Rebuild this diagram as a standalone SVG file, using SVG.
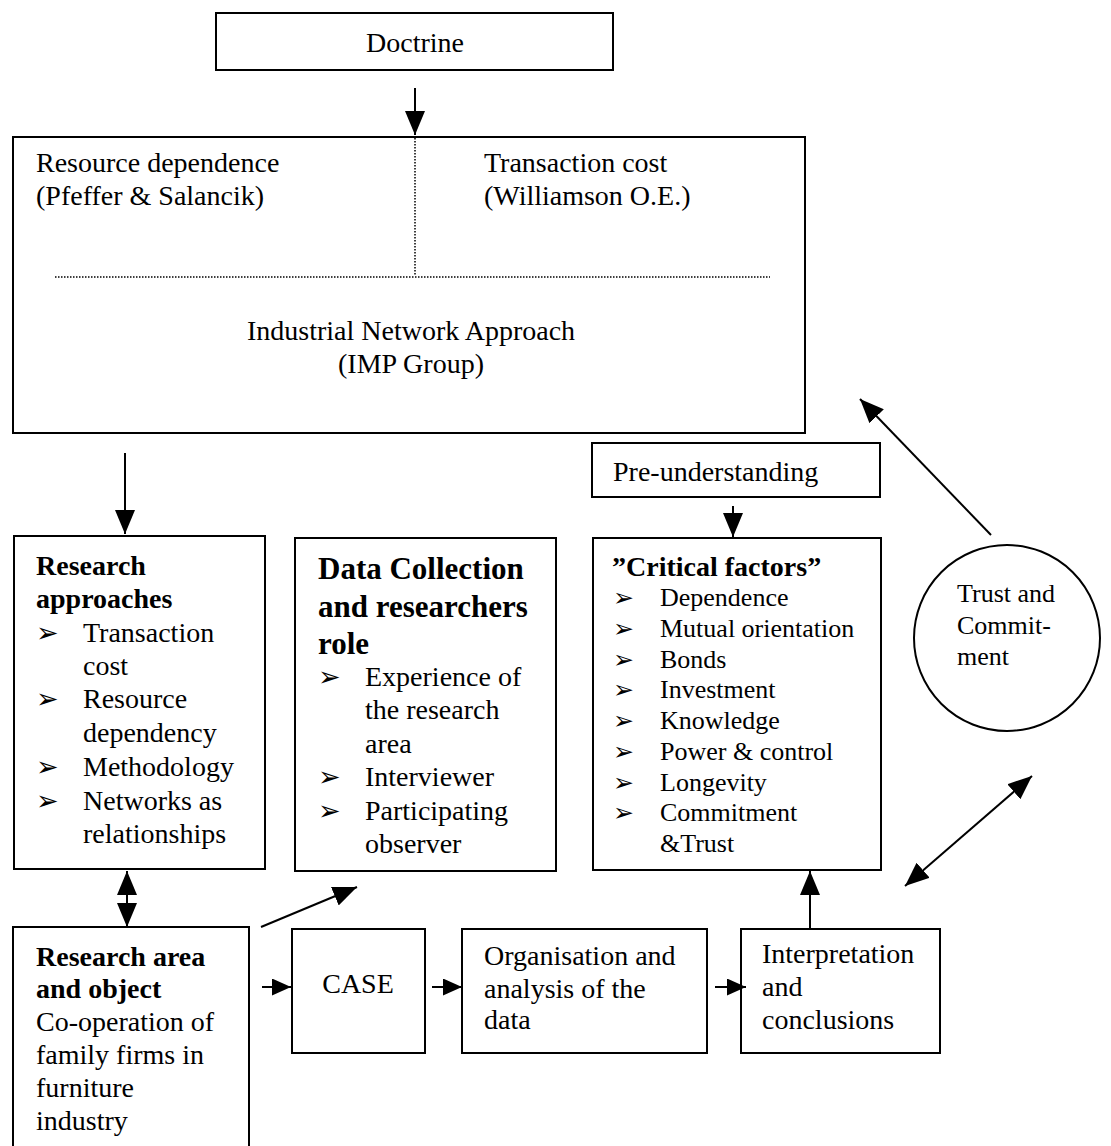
<svg xmlns="http://www.w3.org/2000/svg" width="1111" height="1146" viewBox="0 0 1111 1146">
  <style>
    .box { fill: #fff; stroke: #000; stroke-width: 2; }
    .dot { fill: none; stroke: #000; stroke-width: 1.5; stroke-dasharray: 1.5 1.5; }
    .t { font-family: "Liberation Serif", "Times New Roman", serif; font-size: 28px; fill: #000; }
    .b { font-weight: bold; }
    .s { font-size: 26px; }
    .big { font-size: 31px; }
    .bul { font-family: "DejaVu Sans", sans-serif; font-size: 27px; fill: #000; }
    .c { text-anchor: middle; }
    .ln { fill: none; stroke: #000; stroke-width: 2; }
  </style>
  <defs>
    <marker id="head" viewBox="0 0 24 20" refX="24" refY="10" markerWidth="24" markerHeight="20" markerUnits="userSpaceOnUse" orient="auto-start-reverse">
      <path d="M0,0 L24,10 L0,20 z" fill="#000"/>
    </marker>
    <marker id="headS" viewBox="0 0 19 17" refX="19" refY="8.5" markerWidth="19" markerHeight="17" markerUnits="userSpaceOnUse" orient="auto-start-reverse">
      <path d="M0,0 L19,8.5 L0,17 z" fill="#000"/>
    </marker>
    <clipPath id="interpClip">
      <rect x="742" y="930" width="197" height="99"/>
    </clipPath>
  </defs>

  <!-- Doctrine -->
  <g id="doctrine">
    <rect class="box" x="216" y="13" width="397" height="57"/>
    <text class="t c" x="415" y="52">Doctrine</text>
  </g>

  <!-- Theories box -->
  <g id="theories">
    <rect class="box" x="13" y="137" width="792" height="296"/>
    <line class="dot" x1="415" y1="138" x2="415" y2="276"/>
    <line class="dot" x1="55" y1="277" x2="770" y2="277"/>
    <text class="t" x="36" y="172">Resource dependence</text>
    <text class="t" x="36" y="205">(Pfeffer &amp; Salancik)</text>
    <text class="t" x="484" y="172">Transaction cost</text>
    <text class="t" x="484" y="205">(Williamson O.E.)</text>
    <text class="t c" x="411" y="340">Industrial Network Approach</text>
    <text class="t c" x="411" y="373">(IMP Group)</text>
  </g>

  <!-- Research approaches -->
  <g id="research-approaches">
    <rect class="box" x="14" y="536" width="251" height="333"/>
    <text class="t b" x="36" y="575">Research</text>
    <text class="t b" x="36" y="608">approaches</text>
    <text class="bul" x="36" y="642">➢</text>
    <text class="t" x="83" y="642">Transaction</text>
    <text class="t" x="83" y="675">cost</text>
    <text class="bul" x="36" y="708">➢</text>
    <text class="t" x="83" y="708">Resource</text>
    <text class="t" x="83" y="742">dependency</text>
    <text class="bul" x="36" y="776">➢</text>
    <text class="t" x="83" y="776">Methodology</text>
    <text class="bul" x="36" y="810">➢</text>
    <text class="t" x="83" y="810">Networks as</text>
    <text class="t" x="83" y="843">relationships</text>
  </g>

  <!-- Data collection -->
  <g id="data-collection">
    <rect class="box" x="295" y="538" width="261" height="333"/>
    <text class="t b big" x="318" y="579">Data Collection</text>
    <text class="t b big" x="318" y="617">and researchers</text>
    <text class="t b big" x="318" y="654">role</text>
    <text class="bul" x="318" y="686">➢</text>
    <text class="t" x="365" y="686">Experience of</text>
    <text class="t" x="365" y="719">the research</text>
    <text class="t" x="365" y="753">area</text>
    <text class="bul" x="318" y="786">➢</text>
    <text class="t" x="365" y="786">Interviewer</text>
    <text class="bul" x="318" y="820">➢</text>
    <text class="t" x="365" y="820">Participating</text>
    <text class="t" x="365" y="853">observer</text>
  </g>

  <!-- Pre-understanding -->
  <g id="pre-understanding">
    <rect class="box" x="592" y="443" width="288" height="54"/>
    <text class="t" x="613" y="481">Pre-understanding</text>
  </g>

  <!-- Critical factors -->
  <g id="critical-factors">
    <rect class="box" x="593" y="538" width="288" height="332"/>
    <text class="t b" x="612" y="576">”Critical factors”</text>
    <g class="bul" style="font-size:25px">
      <text x="613" y="606">➢</text>
      <text x="613" y="637">➢</text>
      <text x="613" y="668">➢</text>
      <text x="613" y="698">➢</text>
      <text x="613" y="729">➢</text>
      <text x="613" y="760">➢</text>
      <text x="613" y="791">➢</text>
      <text x="613" y="821">➢</text>
    </g>
    <text class="t s" x="660" y="606">Dependence</text>
    <text class="t s" x="660" y="637">Mutual orientation</text>
    <text class="t s" x="660" y="668">Bonds</text>
    <text class="t s" x="660" y="698">Investment</text>
    <text class="t s" x="660" y="729">Knowledge</text>
    <text class="t s" x="660" y="760">Power &amp; control</text>
    <text class="t s" x="660" y="791">Longevity</text>
    <text class="t s" x="660" y="821">Commitment</text>
    <text class="t s" x="660" y="852">&amp;Trust</text>
  </g>

  <!-- Trust and commitment -->
  <g id="trust-commitment">
    <circle cx="1007" cy="638" r="93" fill="#fff" stroke="#000" stroke-width="2"/>
    <text class="t s" x="957" y="602">Trust and</text>
    <text class="t s" x="957" y="634">Commit-</text>
    <text class="t s" x="957" y="665">ment</text>
  </g>

  <!-- Research area and object -->
  <g id="research-area">
    <rect class="box" x="13" y="927" width="236" height="240"/>
    <text class="t b" x="36" y="966">Research area</text>
    <text class="t b" x="36" y="998">and object</text>
    <text class="t" x="36" y="1031">Co-operation of</text>
    <text class="t" x="36" y="1064">family firms in</text>
    <text class="t" x="36" y="1097">furniture</text>
    <text class="t" x="36" y="1130">industry</text>
  </g>

  <!-- CASE -->
  <g id="case">
    <rect class="box" x="292" y="929" width="133" height="124"/>
    <text class="t c" x="358" y="993">CASE</text>
  </g>

  <!-- Organisation and analysis -->
  <g id="organisation">
    <rect class="box" x="462" y="929" width="245" height="124"/>
    <text class="t" x="484" y="965">Organisation and</text>
    <text class="t" x="484" y="998">analysis of the</text>
    <text class="t" x="484" y="1029">data</text>
  </g>

  <!-- Interpretation and conclusions -->
  <g id="interpretation">
    <rect class="box" x="741" y="929" width="199" height="124"/>
    <g clip-path="url(#interpClip)">
      <text class="t" x="762" y="963">Interpretation</text>
      <text class="t" x="762" y="996">and</text>
      <text class="t" x="762" y="1029">conclusions</text>
    </g>
  </g>

  <!-- Connectors -->
  <g id="connectors">
    <line class="ln" x1="415" y1="88" x2="415" y2="135" marker-end="url(#head)"/>
    <line class="ln" x1="125" y1="453" x2="125" y2="534" marker-end="url(#head)"/>
    <line class="ln" x1="733" y1="506" x2="733" y2="537" marker-end="url(#head)"/>
    <line class="ln" x1="127" y1="871" x2="127" y2="927" marker-start="url(#head)" marker-end="url(#head)"/>
    <line class="ln" x1="261" y1="927" x2="357" y2="887" marker-end="url(#head)"/>
    <line class="ln" x1="262" y1="987" x2="291" y2="987" marker-end="url(#headS)"/>
    <line class="ln" x1="432" y1="987" x2="462" y2="987" marker-end="url(#headS)"/>
    <line class="ln" x1="715" y1="987" x2="746" y2="987" marker-end="url(#headS)"/>
    <line class="ln" x1="810" y1="928" x2="810" y2="871" marker-end="url(#head)"/>
    <line class="ln" x1="905" y1="886" x2="1032" y2="776" marker-start="url(#head)" marker-end="url(#head)"/>
    <line class="ln" x1="991" y1="535" x2="860" y2="399" stroke-width="1.6" marker-end="url(#head)"/>
  </g>
</svg>
